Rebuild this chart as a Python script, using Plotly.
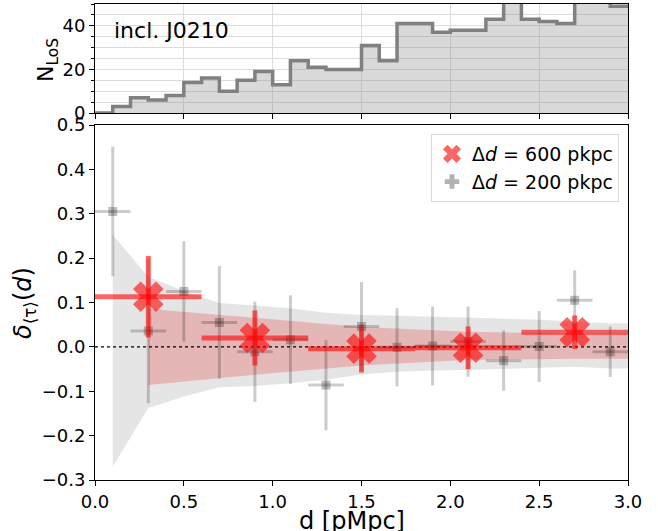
import plotly.graph_objects as go

# ---------------- data ----------------
# Histogram of number of lines of sight (bin edges, width 0.1 pMpc)
hist_edges = [0.0, 0.1, 0.2, 0.3, 0.4, 0.5, 0.6, 0.7, 0.8, 0.9, 1.0, 1.1, 1.2, 1.3, 1.4,
              1.5, 1.6, 1.7, 1.8, 1.9, 2.0, 2.1, 2.2, 2.3, 2.4, 2.5, 2.6, 2.7, 2.8, 2.9, 3.0]
hist_counts = [0, 3, 7, 6, 8, 14, 16, 10, 15, 19, 13, 24, 21, 20, 20,
               31, 24, 41, 41, 37, 38, 38, 43, 55, 43, 42, 41, 53, 56, 49]

# Delta d = 200 pkpc
d200 = [0.1, 0.3, 0.5, 0.7, 0.9, 1.1, 1.3, 1.5, 1.7, 1.9, 2.1, 2.3, 2.5, 2.7, 2.9]
delta200 = [0.305, 0.036, 0.125, 0.055, -0.011, 0.016, -0.086, 0.046, -0.001, 0.002,
            0.012, -0.031, 0.001, 0.105, -0.011]
err200 = [0.146, 0.163, 0.113, 0.127, 0.113, 0.100, 0.102, 0.100, 0.088, 0.089,
          0.079, 0.068, 0.080, 0.068, 0.057]
xerr200 = 0.1

# Delta d = 600 pkpc
d600 = [0.3, 0.9, 1.5, 2.1, 2.7]
delta600 = [0.113, 0.020, -0.004, -0.002, 0.033]
err600 = [0.092, 0.062, 0.054, 0.048, 0.038]
xerr600 = 0.3

# mock scatter bands
band200_x = [0.1, 0.3, 0.5, 0.7, 0.9, 1.1, 1.3, 1.5, 1.7, 1.9, 2.1, 2.3, 2.5, 2.7, 2.9, 3.1]
band200_hi = [0.252, 0.158, 0.126, 0.099, 0.093, 0.087, 0.077, 0.072, 0.070, 0.068,
              0.067, 0.064, 0.061, 0.057, 0.053, 0.053]
band200_lo = [-0.270, -0.138, -0.112, -0.091, -0.088, -0.082, -0.074, -0.062, -0.056, -0.053,
              -0.052, -0.050, -0.048, -0.045, -0.049, -0.049]
band600_x = [0.3, 0.9, 1.5, 2.1, 2.7, 3.3]
band600_hi = [0.086, 0.065, 0.045, 0.034, 0.030, 0.030]
band600_lo = [-0.086, -0.063, -0.042, -0.029, -0.027, -0.027]

FONT = "DejaVu Sans"
W, H = 658, 531
xdom = [95 / W, 628 / W]
ydom_main = [(H - 480) / H, (H - 125) / H]
ydom_top = [(H - 113) / H, (H - 4) / H]

fig = go.Figure()

# ---- top panel histogram ----
fig.add_trace(go.Scatter(
    x=hist_edges, y=hist_counts + [hist_counts[-1]],
    mode="lines", line=dict(shape="hv", color="#808080", width=3.5),
    fill="tozeroy", fillcolor="rgba(128,128,128,0.3)",
    xaxis="x2", yaxis="y2", showlegend=False, hoverinfo="skip"))

# ---- bands ----
fig.add_trace(go.Scatter(x=band200_x, y=band200_lo, mode="lines", line=dict(width=0),
                         showlegend=False, hoverinfo="skip"))
fig.add_trace(go.Scatter(x=band200_x, y=band200_hi, mode="lines", line=dict(width=0),
                         fill="tonexty", fillcolor="rgba(0,0,0,0.1)",
                         showlegend=False, hoverinfo="skip"))
fig.add_trace(go.Scatter(x=band600_x, y=band600_lo, mode="lines", line=dict(width=0),
                         showlegend=False, hoverinfo="skip"))
fig.add_trace(go.Scatter(x=band600_x, y=band600_hi, mode="lines", line=dict(width=0),
                         fill="tonexty", fillcolor="rgba(230,20,20,0.22)",
                         showlegend=False, hoverinfo="skip"))

# zero line
fig.add_trace(go.Scatter(x=[0, 3], y=[0, 0], mode="lines",
                         line=dict(color="black", width=1.3, dash="dot"),
                         showlegend=False, hoverinfo="skip"))

# ---- 200 pkpc points ----
fig.add_trace(go.Scatter(
    x=d200, y=delta200, mode="markers",
    marker=dict(symbol="square", size=9, color="rgba(0,0,0,0.25)", line=dict(width=0)),
    error_y=dict(type="data", array=err200, thickness=3, width=0, color="rgba(0,0,0,0.2)"),
    error_x=dict(type="constant", value=xerr200, thickness=3, width=0, color="rgba(0,0,0,0.2)"),
    showlegend=False))

# ---- 600 pkpc points ----
fig.add_trace(go.Scatter(
    x=d600, y=delta600, mode="markers",
    marker=dict(symbol="x", size=27, color="rgba(255,0,0,0.6)", line=dict(width=0)),
    error_y=dict(type="data", array=err600, thickness=5, width=0, color="rgba(255,0,0,0.6)"),
    error_x=dict(type="constant", value=xerr600, thickness=5, width=0, color="rgba(255,0,0,0.6)"),
    name="Δ<i>d</i> = 600 pkpc", showlegend=True))

# legend proxy for 200 pkpc
fig.add_trace(go.Scatter(
    x=[None], y=[None], mode="markers",
    marker=dict(symbol="cross", size=12, color="rgba(0,0,0,0.3)", line=dict(width=0)),
    name="Δ<i>d</i> = 200 pkpc", showlegend=True))

axis_common = dict(showline=True, mirror=True, linecolor="black", linewidth=1,
                   ticks="outside", ticklen=5, tickcolor="black", automargin=False,
                   tickfont=dict(family=FONT, size=18, color="black"), zeroline=False)

fig.update_layout(
    width=W, height=H,
    margin=dict(l=0, r=0, t=0, b=0, autoexpand=False),
    paper_bgcolor="white", plot_bgcolor="white",
    font=dict(family=FONT, color="black"),
    xaxis=dict(domain=xdom, range=[0, 3], dtick=0.5, tickformat=".1f", anchor="y",
               showgrid=False, **axis_common),
    yaxis=dict(domain=ydom_main, range=[-0.3, 0.5], dtick=0.1, tickformat=".1f", anchor="x",
               showgrid=False, **axis_common),
    xaxis2=dict(domain=xdom, range=[0, 3], dtick=0.5, anchor="y2", showticklabels=False,
                showgrid=True, gridcolor="#dcdcdc", gridwidth=1, **axis_common),
    yaxis2=dict(domain=ydom_top, range=[0, 50], dtick=20, anchor="x2",
                showgrid=True, gridcolor="#dcdcdc", gridwidth=1,
                minor=dict(dtick=5, ticks="outside", ticklen=3, tickcolor="black",
                           showgrid=True, gridcolor="#dcdcdc", gridwidth=1),
                **axis_common),
    legend=dict(x=619 / W, y=(H - 134) / H, xanchor="right", yanchor="top",
                bgcolor="rgba(255,255,255,0.85)", bordercolor="#d8d8d8", borderwidth=1,
                font=dict(family=FONT, size=19, color="black"),
                itemsizing="trace", traceorder="normal", tracegroupgap=0),
    showlegend=True,
)

fig.add_annotation(text="incl. J0210", xref="paper", yref="paper",
                   x=112 / W, y=(H - 30) / H, xanchor="left", yanchor="middle",
                   showarrow=False, font=dict(family=FONT, size=22, color="black"))
fig.add_annotation(text="N<sub>LoS</sub>", xref="paper", yref="paper",
                   x=48 / W, y=(H - 60) / H, xanchor="center", yanchor="middle",
                   textangle=-90, showarrow=False, font=dict(family=FONT, size=22, color="black"))
fig.add_annotation(text="<i>δ</i><sub>⟨τ⟩</sub>(<i>d</i>)", xref="paper", yref="paper",
                   x=24 / W, y=(H - 303) / H, xanchor="center", yanchor="middle",
                   textangle=-90, showarrow=False, font=dict(family=FONT, size=24, color="black"))
fig.add_annotation(text="d [pMpc]", xref="paper", yref="paper",
                   x=352 / W, y=(H - 521) / H, xanchor="center", yanchor="middle",
                   showarrow=False, font=dict(family=FONT, size=24, color="black"))

fig.write_html("out.html")
